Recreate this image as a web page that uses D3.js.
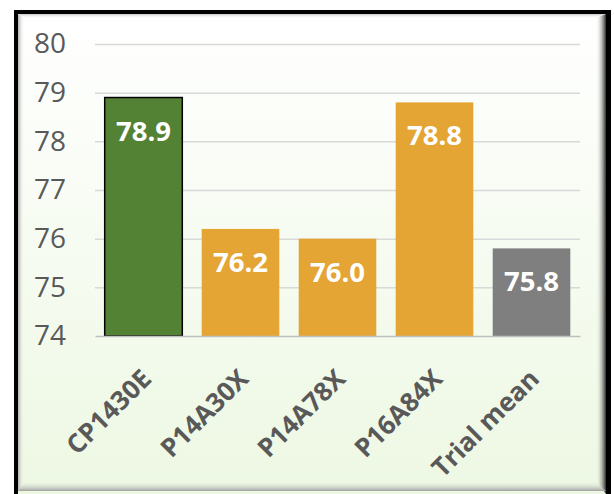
<!DOCTYPE html>
<html>
<head>
<meta charset="utf-8">
<script src="https://cdn.jsdelivr.net/npm/d3@7"></script>
<style>
  html, body { margin: 0; padding: 0; background: #ffffff; }
  svg { display: block; }
</style>
</head>
<body>
<svg id="chart" width="614" height="494"></svg>
<script>

// Chart data
const categories = ['CP1430E', 'P14A30X', 'P14A78X', 'P16A84X', 'Trial mean'];
const values = [78.9, 76.2, 76.0, 78.8, 75.8];
const yTicks = [74, 75, 76, 77, 78, 79, 80];

// Bar fills, one per category
const barFills = ['#548235', '#E5A535', '#E5A535', '#E5A535', '#7F7F7F'];

const svg = d3.select('#chart');
const defs = svg.append('defs');

// Background gradient (white to pale green)
const bg = defs.append('linearGradient')
    .attr('id', 'bg').attr('x1', 0).attr('y1', 0).attr('x2', 0).attr('y2', 1);
bg.append('stop').attr('offset', '0%').attr('stop-color', '#ffffff');
bg.append('stop').attr('offset', '100%').attr('stop-color', '#EDF8E3');

// Bevel gradients, darker towards the outer edge
function bevel(id, x1, y1, x2, y2, dark){
    const g = defs.append('linearGradient')
        .attr('id', id).attr('x1', x1).attr('y1', y1).attr('x2', x2).attr('y2', y2);
    g.append('stop').attr('offset', '0%').attr('stop-color', '#F4FAEE').attr('stop-opacity', 0);
    g.append('stop').attr('offset', '100%').attr('stop-color', dark);
}
bevel('bvRight', 0, 0, 1, 0, '#2a2a2a');
bevel('bvBottom', 0, 0, 0, 1, '#a0a0a0');
bevel('bvLeft', 1, 0, 0, 0, '#b0b0b0');
bevel('bvTop', 0, 1, 0, 0, '#c8c8c8');

// Frame (bottom edge runs past the picture)
const fx0 = 14, fy0 = 10, fx1 = 611, fy1 = 500;
svg.append('rect')
    .attr('x', fx0).attr('y', fy0)
    .attr('width', fx1 - fx0).attr('height', fy1 - fy0)
    .attr('fill', '#000000');

// Inner area
const ix0 = 18, iy0 = 14, ix1 = 606, iy1 = 491;
svg.append('rect')
    .attr('x', ix0).attr('y', iy0)
    .attr('width', ix1 - ix0).attr('height', 494 - iy0)
    .attr('fill', 'url(#bg)');

// Bevel edges (mitred)
const bl = 6, bt = 4, br = 10, bb = 10;
svg.append('polygon')
    .attr('points', [[ix0, iy0], [ix0 + bl, iy0 + bt], [ix0 + bl, iy1 - bb], [ix0, iy1]].join(' '))
    .attr('fill', 'url(#bvLeft)');
svg.append('polygon')
    .attr('points', [[ix0, iy0], [ix1, iy0], [ix1 - br, iy0 + bt], [ix0 + bl, iy0 + bt]].join(' '))
    .attr('fill', 'url(#bvTop)');
svg.append('polygon')
    .attr('points', [[ix1, iy0], [ix1, 494], [ix1 - br, iy1 - bb], [ix1 - br, iy0 + bt]].join(' '))
    .attr('fill', 'url(#bvRight)');
svg.append('polygon')
    .attr('points', [[ix0, iy1], [ix0 + bl, iy1 - bb], [ix1 - br, iy1 - bb], [ix1, iy1]].join(' '))
    .attr('fill', 'url(#bvBottom)');

// Scales
const x = d3.scaleBand()
    .domain(categories)
    .range([95, 580])
    .paddingInner(0.2)
    .paddingOuter(0.1);

const y = d3.scaleLinear()
    .domain([74, 80])
    .range([336, 44]);

// Gridlines
svg.append('g')
    .attr('transform', 'translate(95,0)')
    .call(d3.axisRight(y).tickValues(yTicks.slice(1)).tickSize(485).tickFormat(''))
    .call(g => g.select('.domain').remove())
    .call(g => g.selectAll('line').attr('stroke', '#D9D9D9').attr('stroke-width', 1.5));

// Y axis labels
svg.append('g')
    .attr('transform', 'translate(66,0)')
    .call(d3.axisLeft(y).tickValues(yTicks).tickSize(0).tickPadding(0).tickFormat(d3.format('d')))
    .call(g => g.select('.domain').remove())
    .call(g => g.selectAll('text')
        .attr('fill', '#595959')
        .attr('font-family', '"Open Sans", sans-serif')
        .attr('font-size', 28));

// Bars
svg.append('g')
    .selectAll('rect')
    .data(values)
    .join('rect')
    .attr('x', (d, i) => x(categories[i]))
    .attr('y', d => y(d))
    .attr('width', x.bandwidth())
    .attr('height', d => y(74) - y(d))
    .attr('fill', (d, i) => barFills[i])
    .attr('stroke', (d, i) => i === 0 ? '#000000' : 'none')
    .attr('stroke-width', 1.5);

// Baseline at 74
svg.append('g')
    .attr('transform', 'translate(0,' + y(74) + ')')
    .call(d3.axisBottom(x).tickSize(0).tickFormat(''))
    .call(g => g.select('.domain').attr('stroke', '#BFBFBF').attr('stroke-width', 1.5));

// Value labels inside bars
svg.append('g')
    .selectAll('text')
    .data(values)
    .join('text')
    .attr('x', (d, i) => x(categories[i]) + x.bandwidth() / 2)
    .attr('y', d => y(d) + 43)
    .attr('text-anchor', 'middle')
    .attr('fill', '#ffffff')
    .attr('font-family', '"Open Sans", sans-serif')
    .attr('font-weight', 'bold')
    .attr('font-size', 27.5)
    .text(d => d.toFixed(1));

// Category labels, rotated
svg.append('g')
    .selectAll('text')
    .data(categories)
    .join('text')
    .attr('transform', d => `translate(${x(d) + x.bandwidth() / 2 + 3},${y(74) + 38}) rotate(-45)`)
    .attr('text-anchor', 'end')
    .attr('dy', '0.35em')
    .attr('fill', '#595959')
    .attr('font-family', '"Open Sans", sans-serif')
    .attr('font-weight', 'bold')
    .attr('font-size', 26)
    .text(d => d);

</script>
</body>
</html>
